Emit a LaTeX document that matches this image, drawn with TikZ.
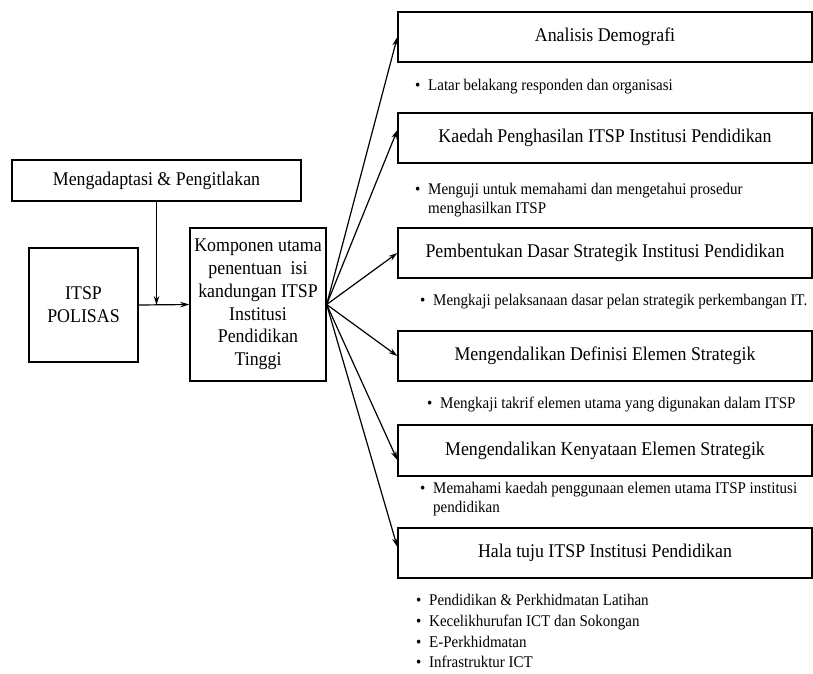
\documentclass[tikz,border=0pt]{standalone}
\usepackage{fontspec}
\setmainfont{Liberation Serif}[FakeStretch=0.92]
\usetikzlibrary{arrows.meta}
\newcommand\mybul{\makebox[13pt][l]{•}}
\newcommand\myind{\hspace*{13pt}}
\begin{document}
\begin{tikzpicture}[x=1pt,y=-1pt,
  box/.style={draw, line width=1.3pt, inner sep=0pt, align=center,
    font=\fontsize{19.4}{22.8}\selectfont},
  wbox/.style={box, minimum width=414pt, minimum height=50pt},
  bl/.style={anchor=base west, inner sep=0pt, font=\fontsize{16.3}{19}\selectfont},
  arr/.style={line width=1.2pt, -{Stealth[length=9pt,width=5.5pt]}}]
\useasboundingbox (0,0) rectangle (813,673);

\node[box, minimum width=289pt, minimum height=41pt] (mg) at (156.5,180.5) {Mengadaptasi \& Pengitlakan};
\node[box, minimum width=109pt, minimum height=114pt] (itsp) at (83.5,305) {ITSP\\POLISAS};
\node[box, minimum width=136pt, minimum height=153pt] (komp) at (258,304.5)
  {Komponen utama\\penentuan~ isi\\kandungan ITSP\\Institusi\\Pendidikan\\Tinggi};

\node[wbox] (b1) at (605,37) {Analisis Demografi};
\node[wbox] (b2) at (605,138) {Kaedah Penghasilan ITSP Institusi Pendidikan};
\node[wbox] (b3) at (605,253) {Pembentukan Dasar Strategik Institusi Pendidikan};
\node[wbox] (b4) at (605,356) {Mengendalikan Definisi Elemen Strategik};
\node[wbox, minimum height=51pt] (b5) at (605,450.5) {Mengendalikan Kenyataan Elemen Strategik};
\node[wbox] (b6) at (605,553) {Hala tuju ITSP Institusi Pendidikan};

\draw[arr] (itsp.east) -- (komp.west);
\draw[arr] (mg.south) -- (mg.south |- itsp.east);

\draw[arr] (komp.east) -- (b1.west);
\draw[arr] (komp.east) -- ([yshift=8pt]b2.west);
\draw[arr] (komp.east) -- (b3.west);
\draw[arr] (komp.east) -- (b4.west);
\draw[arr] (komp.east) -- ([yshift=-9.5pt]b5.west);
\draw[arr] (komp.east) -- ([yshift=6pt]b6.west);

\node[bl] (l1) at (415,90) {\mybul Latar belakang responden dan organisasi};
\node[bl] (l2a) at (415,194) {\mybul Menguji untuk memahami dan mengetahui prosedur};
\node[bl] (l2b) at (415,213) {\myind menghasilkan ITSP};
\node[bl] (l3) at (420,305) {\mybul Mengkaji pelaksanaan dasar pelan strategik perkembangan IT.};
\node[bl] (l4) at (427,408) {\mybul Mengkaji takrif elemen utama yang digunakan dalam ITSP};
\node[bl] (l5a) at (420,493) {\mybul Memahami kaedah penggunaan elemen utama ITSP institusi};
\node[bl] (l5b) at (420,512) {\myind pendidikan};
\node[bl] (l6a) at (416,605) {\mybul Pendidikan \& Perkhidmatan Latihan};
\node[bl] (l6b) at (416,626) {\mybul Kecelikhurufan ICT dan Sokongan};
\node[bl] (l6c) at (416,647) {\mybul E-Perkhidmatan};
\node[bl] (l6d) at (416,667) {\mybul Infrastruktur ICT};
\end{tikzpicture}
\end{document}
